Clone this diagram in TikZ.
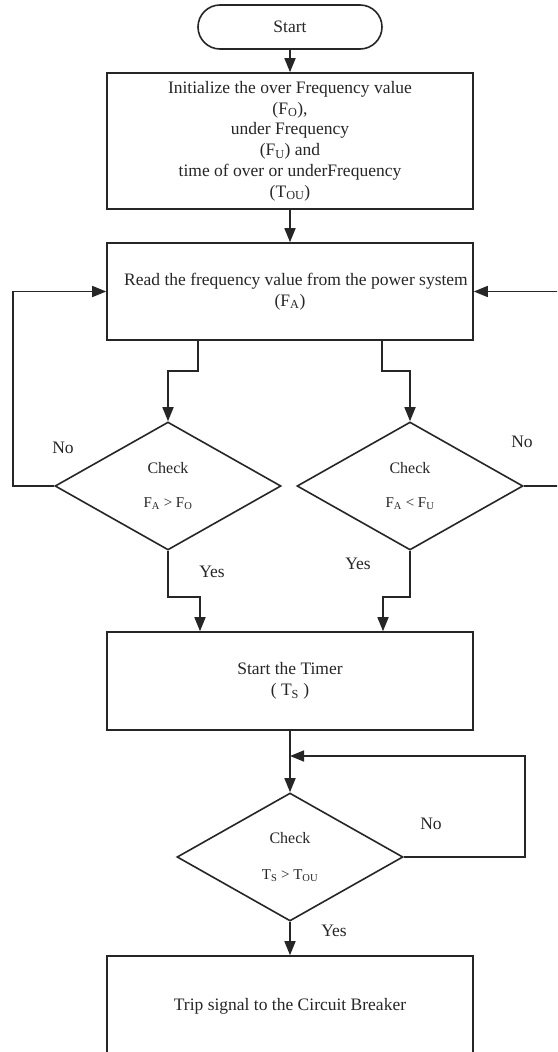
\documentclass[tikz,border=0pt]{standalone}
\usepackage{fontspec}
\setmainfont{Liberation Serif}
\usetikzlibrary{shapes.geometric,arrows.meta}
\definecolor{ink}{rgb}{0.15,0.15,0.15}
\begin{document}
\begin{tikzpicture}[x=1pt,y=-1pt,
  every node/.style={text=ink},
  base/.style={draw=ink,line width=1.6pt,inner sep=0pt,align=center,font=\fontsize{17.5}{20.8}\selectfont},
  procbox/.style={base,rectangle,minimum width=366pt},
  termbox/.style={base,rectangle,rounded corners=22pt,minimum width=184pt,minimum height=44pt},
  decbox/.style={base,diamond,minimum width=226pt,minimum height=128pt},
  lbl/.style={font=\fontsize{17.5}{20.5}\selectfont,inner sep=0pt},
  arr/.style={draw=ink,line width=1.6pt,-{Triangle[length=14pt,width=11pt]}},
  ln/.style={draw=ink,line width=1.6pt}]
\useasboundingbox (0,0) rectangle (557,1052);
\clip (0,0) rectangle (557,1052);
\fill[white] (0,0) rectangle (557,1052);

\node[termbox] (start) at (290,27) {Start};
\node[procbox,minimum height=136pt] (init) at (290,141) {Initialize the over Frequency value\\(F\textsubscript{O}),\\under Frequency\\(F\textsubscript{U}) and\\time of over or underFrequency\\(T\textsubscript{OU})};
\node[procbox,minimum height=97pt] (read) at (290,291.5) {\hspace*{12pt}Read the frequency value from the power system\\(F\textsubscript{A})};
\node[decbox] (d1) at (168,486) {{\fontsize{16}{18}\selectfont Check}\\[14pt]{\fontsize{15}{18}\selectfont F\textsubscript{A} > F\textsubscript{O}}};
\node[decbox] (d2) at (410,486) {{\fontsize{16}{18}\selectfont Check}\\[14pt]{\fontsize{15}{18}\selectfont F\textsubscript{A} < F\textsubscript{U}}};
\node[procbox,minimum height=98pt] (timer) at (290,681) {Start the Timer\\( T\textsubscript{S} )};
\node[decbox] (d3) at (290,857) {{\fontsize{16}{18}\selectfont Check}\\[16pt]{\fontsize{15}{18}\selectfont T\textsubscript{S} > T\textsubscript{OU}}};
\node[procbox,minimum height=100pt] (trip) at (290,1006) {Trip signal to the Circuit Breaker};

\node[lbl] (no1) at (63,448) {No};
\node[lbl] (no2) at (522,442) {No};
\node[lbl] (yes1) at (212,572) {Yes};
\node[lbl] (yes2) at (358,564) {Yes};
\node[lbl] (no3) at (431,824) {No};
\node[lbl] (yes3) at (334,931) {Yes};

\coordinate (j1) at (198,371);
\coordinate (j2) at (382,371);
\coordinate (nl) at (13,486);
\coordinate (nr) at (562,486);
\coordinate (y1) at (200,597);
\coordinate (y2) at (383,597);
\coordinate (l3) at (525,756);

\draw[arr] (start) -- (init);
\draw[arr] (init) -- (read);
\draw[arr] (read.south -| j1) -- (j1) -| (d1.north);
\draw[arr] (read.south -| j2) -- (j2) -| (d2.north);
\draw[arr] (d1.west) -- (nl) |- (read.west);
\draw[arr] (d2.east) -- (nr) |- (read.east);
\draw[arr] (d1.south) |- (y1) -- (y1 |- timer.north);
\draw[arr] (d2.south) |- (y2) -- (y2 |- timer.north);
\draw[arr] (timer) -- (d3);
\draw[arr] (d3.east) -| (l3) -- (l3 -| d3.north);
\draw[arr] (d3) -- (trip);
\end{tikzpicture}
\end{document}
